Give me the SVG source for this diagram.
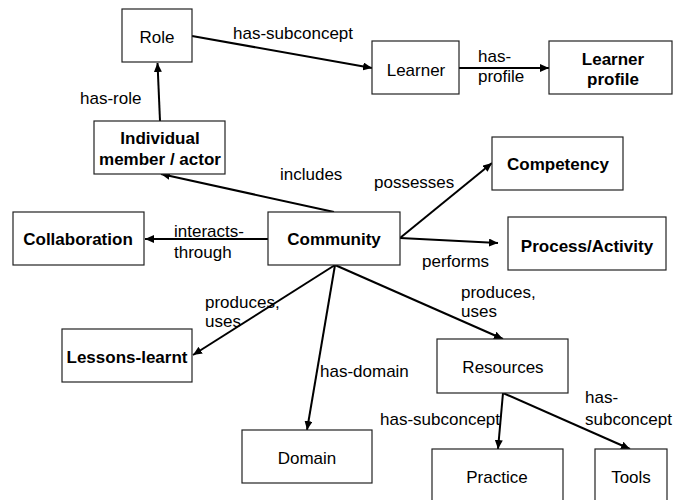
<svg xmlns="http://www.w3.org/2000/svg" width="673" height="500" viewBox="0 0 673 500">
<style>
.box{fill:#fff;stroke:#222;stroke-width:1.2}
.t{font-family:"Liberation Sans",Arial,sans-serif;font-size:17px;fill:#000}
.b{font-weight:bold}
.c{text-anchor:middle}
.e{stroke:#000;stroke-width:2;fill:none;marker-end:url(#ah)}
</style>
<defs>
<marker id="ah" markerUnits="userSpaceOnUse" markerWidth="10" markerHeight="8" refX="9" refY="4" orient="auto">
<path d="M0,0 L9,4 L0,8 z" fill="#000"/>
</marker>
</defs>
<rect width="673" height="500" fill="#fff"/>
<g id="connectors">
<line class="e" x1="160" y1="121" x2="157.5" y2="63"/>
<line class="e" x1="192" y1="36" x2="372" y2="68"/>
<line class="e" x1="459" y1="68" x2="549" y2="68"/>
<line class="e" x1="334" y1="212" x2="161" y2="174"/>
<line class="e" x1="268" y1="239" x2="145" y2="239"/>
<line class="e" x1="400" y1="238" x2="492" y2="163"/>
<line class="e" x1="400" y1="238" x2="498" y2="243"/>
<line class="e" x1="335" y1="265" x2="193" y2="355"/>
<line class="e" x1="335" y1="265" x2="307" y2="430"/>
<line class="e" x1="335" y1="265" x2="503" y2="339"/>
<line class="e" x1="503" y1="393" x2="498" y2="449"/>
<line class="e" x1="503" y1="393" x2="630" y2="449"/>
<g class="t">
<text x="80" y="104">has-role</text>
<text x="233" y="39">has-subconcept</text>
<text x="478" y="62">has-</text>
<text x="478" y="82">profile</text>
<text x="280" y="180">includes</text>
<text x="374" y="188">possesses</text>
<text x="174" y="237">interacts-</text>
<text x="174" y="258">through</text>
<text x="422" y="267">performs</text>
<text x="205" y="308">produces,</text>
<text x="205" y="327">uses</text>
<text x="461" y="298">produces,</text>
<text x="461" y="317">uses</text>
<text x="320" y="377">has-domain</text>
<text x="380" y="425">has-subconcept</text>
<text x="585" y="403">has-</text>
<text x="585" y="425">subconcept</text>
</g>
</g>
<g id="role"><rect class="box" x="122" y="9" width="70" height="53"/><text class="t c" x="157" y="43">Role</text></g>
<g id="individual"><rect class="box" x="94" y="121" width="131" height="53"/><text class="t b c" x="160" y="144">Individual</text><text class="t b c" x="160" y="165">member / actor</text></g>
<g id="learner"><rect class="box" x="372" y="41" width="87" height="53"/><text class="t c" x="416" y="76">Learner</text></g>
<g id="learner-profile"><rect class="box" x="549" y="41" width="123" height="53"/><text class="t b c" x="613" y="65">Learner</text><text class="t b c" x="613" y="85">profile</text></g>
<g id="competency"><rect class="box" x="492" y="137" width="131" height="53"/><text class="t b c" x="558" y="170">Competency</text></g>
<g id="community"><rect class="box" x="268" y="212" width="132" height="53"/><text class="t b c" x="334" y="245">Community</text></g>
<g id="collaboration"><rect class="box" x="13" y="212" width="131" height="53"/><text class="t b c" x="78" y="245">Collaboration</text></g>
<g id="process"><rect class="box" x="508" y="217" width="158" height="53"/><text class="t b c" x="587" y="252">Process/Activity</text></g>
<g id="lessons"><rect class="box" x="62" y="329" width="130" height="53"/><text class="t b c" x="127" y="363">Lessons-learnt</text></g>
<g id="domain"><rect class="box" x="242" y="430" width="130" height="53"/><text class="t c" x="307" y="464">Domain</text></g>
<g id="resources"><rect class="box" x="437" y="339" width="131" height="54"/><text class="t c" x="503" y="373">Resources</text></g>
<g id="practice"><rect class="box" x="432" y="449" width="131" height="54"/><text class="t c" x="497" y="483">Practice</text></g>
<g id="tools"><rect class="box" x="595" y="449" width="72" height="54"/><text class="t c" x="631" y="483">Tools</text></g>
</svg>
